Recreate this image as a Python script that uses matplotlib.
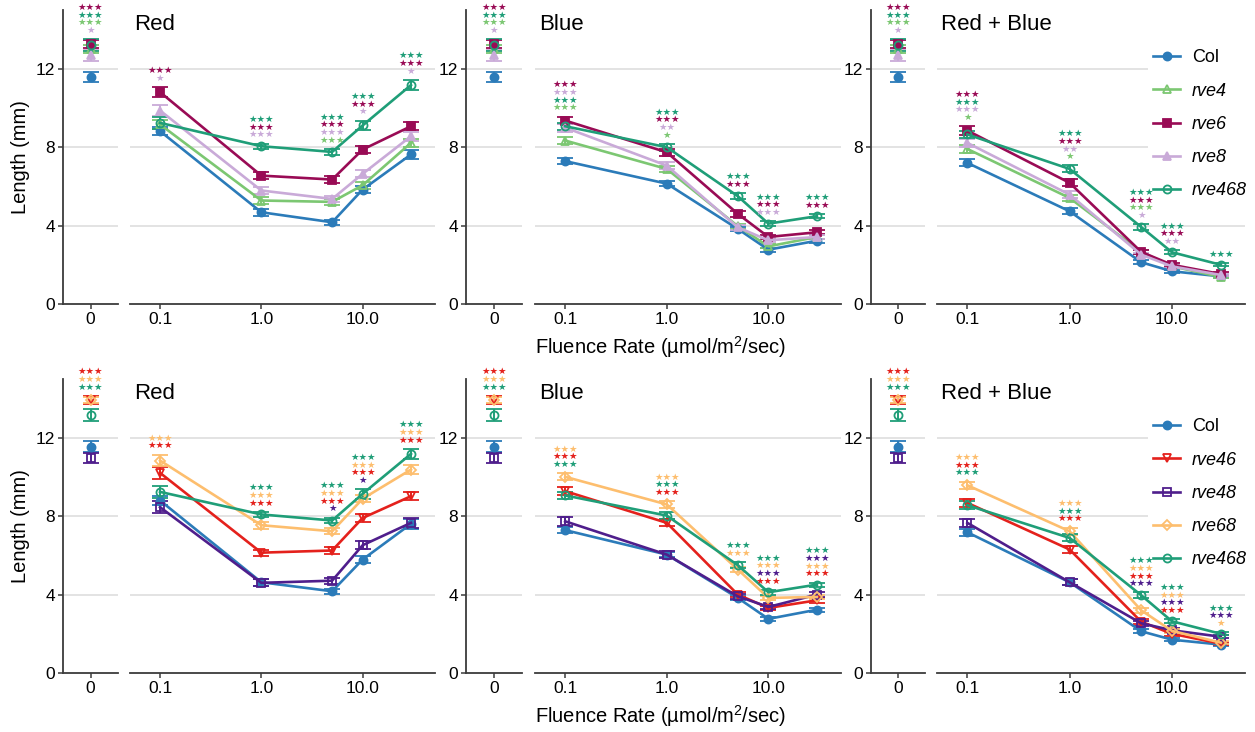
import matplotlib
matplotlib.use("Agg")
import matplotlib.pyplot as plt
from matplotlib.lines import Line2D
from matplotlib.ticker import FixedLocator, NullLocator, FixedFormatter

plt.rcParams['font.family'] = ['Liberation Sans', 'DejaVu Sans']
plt.rcParams['mathtext.default'] = 'regular'

# ─────────────────────────────────────────────
# Datos
# ─────────────────────────────────────────────
fluence = [0.1, 1.0, 5.0, 10.0, 30.0]
panel_titles = ["Red", "Blue", "Red + Blue"]
top_genos = ["Col", "rve4", "rve6", "rve8", "rve468"]
bot_genos = ["Col", "rve46", "rve48", "rve68", "rve468"]

colors = {"Col": "#2b7bb9", "rve4": "#7cc772", "rve6": "#990b55", "rve8": "#c9aad8",
          "rve468": "#1f9e78", "rve46": "#e4211c", "rve48": "#4f1e8c", "rve68": "#fdbe6e"}
# (marcador, relleno)
markers = {"Col": ("o", True), "rve4": ("^", False), "rve6": ("s", True), "rve8": ("^", True),
           "rve468": ("o", False), "rve46": ("v", False), "rve48": ("s", False), "rve68": ("D", False)}

# fila de arriba: oscuridad (0)
top_dark_mean = {"Col": 11.58, "rve4": 13.0, "rve6": 13.27, "rve8": 12.7, "rve468": 13.2}
top_dark_se = {"Col": 0.27, "rve4": 0.2, "rve6": 0.22, "rve8": 0.28, "rve468": 0.3}
top_dark_stars = [("rve6", "***"), ("rve468", "***"), ("rve4", "***"), ("rve8", "*")]

top_red_mean = {"Col": [8.82, 4.68, 4.17, 5.84, 7.63],
                "rve4": [9.16, 5.28, 5.21, 6.06, 8.22],
                "rve6": [10.81, 6.55, 6.35, 7.88, 9.07],
                "rve8": [9.87, 5.79, 5.36, 6.64, 8.56],
                "rve468": [9.24, 8.05, 7.76, 9.11, 11.17]}
top_red_se = {"Col": [0.22, 0.17, 0.14, 0.19, 0.25],
              "rve4": [0.22, 0.18, 0.16, 0.18, 0.22],
              "rve6": [0.27, 0.18, 0.16, 0.19, 0.21],
              "rve8": [0.28, 0.17, 0.15, 0.18, 0.22],
              "rve468": [0.3, 0.13, 0.15, 0.24, 0.26]}
top_red_stars = [[("rve6", "***"), ("rve8", "*")],
                 [("rve468", "***"), ("rve6", "***"), ("rve8", "***")],
                 [("rve468", "***"), ("rve6", "***"), ("rve8", "***"), ("rve4", "***")],
                 [("rve468", "***"), ("rve6", "***"), ("rve8", "*")],
                 [("rve468", "***"), ("rve6", "***"), ("rve8", "*")]]

top_blue_mean = {"Col": [7.29, 6.14, 3.83, 2.77, 3.23],
                 "rve4": [8.34, 6.89, 3.97, 2.94, 3.42],
                 "rve6": [9.36, 7.74, 4.6, 3.42, 3.66],
                 "rve8": [9.0, 7.06, 3.91, 3.25, 3.42],
                 "rve468": [9.07, 8.0, 5.5, 4.1, 4.48]}
top_blue_se = {"Col": [0.16, 0.13, 0.12, 0.1, 0.1],
               "rve4": [0.2, 0.16, 0.12, 0.1, 0.1],
               "rve6": [0.2, 0.17, 0.14, 0.12, 0.1],
               "rve8": [0.2, 0.16, 0.12, 0.1, 0.1],
               "rve468": [0.18, 0.17, 0.16, 0.12, 0.1]}
top_blue_stars = [[("rve6", "***"), ("rve8", "***"), ("rve468", "***"), ("rve4", "***")],
                  [("rve468", "***"), ("rve6", "***"), ("rve8", "**"), ("rve4", "*")],
                  [("rve468", "***"), ("rve6", "***")],
                  [("rve468", "***"), ("rve6", "***"), ("rve8", "***")],
                  [("rve468", "***"), ("rve6", "***")]]

top_rb_mean = {"Col": [7.2, 4.73, 2.13, 1.67, 1.41],
               "rve4": [7.91, 5.41, 2.66, 1.92, 1.38],
               "rve6": [8.85, 6.18, 2.66, 2.0, 1.53],
               "rve8": [8.22, 5.58, 2.52, 1.92, 1.48],
               "rve468": [8.65, 6.89, 3.93, 2.64, 2.0]}
top_rb_se = {"Col": [0.18, 0.15, 0.1, 0.08, 0.07],
             "rve4": [0.2, 0.16, 0.1, 0.08, 0.07],
             "rve6": [0.22, 0.18, 0.12, 0.09, 0.08],
             "rve8": [0.2, 0.17, 0.1, 0.08, 0.07],
             "rve468": [0.2, 0.18, 0.14, 0.1, 0.08]}
top_rb_stars = [[("rve6", "***"), ("rve468", "***"), ("rve8", "***"), ("rve4", "*")],
                [("rve468", "***"), ("rve6", "***"), ("rve8", "**"), ("rve4", "*")],
                [("rve468", "***"), ("rve6", "***"), ("rve4", "***"), ("rve8", "*")],
                [("rve468", "***"), ("rve6", "***"), ("rve8", "**")],
                [("rve468", "***")]]

# fila de abajo: oscuridad (0)
bot_dark_mean = {"Col": 11.54, "rve46": 13.92, "rve48": 10.98, "rve68": 13.95, "rve468": 13.17}
bot_dark_se = {"Col": 0.28, "rve46": 0.22, "rve48": 0.25, "rve68": 0.15, "rve468": 0.3}
bot_dark_stars = [("rve46", "***"), ("rve68", "***"), ("rve468", "***")]

bot_red_mean = {"Col": [8.8, 4.63, 4.17, 5.79, 7.61],
                "rve46": [10.21, 6.14, 6.25, 7.91, 9.02],
                "rve48": [8.46, 4.6, 4.71, 6.52, 7.66],
                "rve68": [10.84, 7.54, 7.23, 8.89, 10.38],
                "rve468": [9.24, 8.09, 7.78, 9.14, 11.18]}
bot_red_se = {"Col": [0.22, 0.17, 0.14, 0.19, 0.25],
              "rve46": [0.3, 0.15, 0.16, 0.2, 0.2],
              "rve48": [0.3, 0.18, 0.15, 0.2, 0.25],
              "rve68": [0.3, 0.18, 0.16, 0.18, 0.25],
              "rve468": [0.3, 0.13, 0.15, 0.24, 0.26]}
bot_red_stars = [[("rve68", "***"), ("rve46", "***")],
                 [("rve468", "***"), ("rve68", "***"), ("rve46", "***")],
                 [("rve468", "***"), ("rve68", "***"), ("rve46", "***"), ("rve48", "*")],
                 [("rve468", "***"), ("rve68", "***"), ("rve46", "***"), ("rve48", "*")],
                 [("rve468", "***"), ("rve68", "***"), ("rve46", "***")]]

bot_blue_mean = {"Col": [7.29, 6.04, 3.83, 2.76, 3.23],
                 "rve46": [9.28, 7.66, 4.0, 3.32, 3.71],
                 "rve48": [7.74, 6.04, 3.91, 3.37, 4.0],
                 "rve68": [10.01, 8.6, 5.28, 3.83, 3.88],
                 "rve468": [9.06, 8.03, 5.5, 4.12, 4.51]}
bot_blue_se = {"Col": [0.16, 0.13, 0.12, 0.1, 0.1],
               "rve46": [0.2, 0.18, 0.14, 0.12, 0.12],
               "rve48": [0.22, 0.16, 0.14, 0.12, 0.12],
               "rve68": [0.18, 0.16, 0.14, 0.12, 0.12],
               "rve468": [0.18, 0.17, 0.16, 0.12, 0.1]}
bot_blue_stars = [[("rve68", "***"), ("rve46", "***"), ("rve468", "***")],
                  [("rve68", "***"), ("rve468", "***"), ("rve46", "***")],
                  [("rve468", "***"), ("rve68", "***")],
                  [("rve468", "***"), ("rve68", "***"), ("rve48", "***"), ("rve46", "***")],
                  [("rve468", "***"), ("rve48", "***"), ("rve68", "***"), ("rve46", "***")]]

bot_rb_mean = {"Col": [7.18, 4.63, 2.13, 1.7, 1.45],
               "rve46": [8.68, 6.3, 2.62, 2.0, 1.5],
               "rve48": [7.66, 4.63, 2.54, 2.18, 1.85],
               "rve68": [9.58, 7.23, 3.2, 2.15, 1.55],
               "rve468": [8.56, 6.89, 3.97, 2.64, 2.0]}
bot_rb_se = {"Col": [0.18, 0.15, 0.1, 0.08, 0.07],
             "rve46": [0.2, 0.18, 0.12, 0.1, 0.08],
             "rve48": [0.2, 0.16, 0.12, 0.1, 0.08],
             "rve68": [0.18, 0.18, 0.12, 0.1, 0.08],
             "rve468": [0.2, 0.18, 0.14, 0.1, 0.08]}
bot_rb_stars = [[("rve68", "***"), ("rve46", "***"), ("rve468", "***")],
                [("rve68", "***"), ("rve468", "***"), ("rve46", "***")],
                [("rve468", "***"), ("rve68", "***"), ("rve46", "***"), ("rve48", "***")],
                [("rve468", "***"), ("rve68", "***"), ("rve48", "***"), ("rve46", "***")],
                [("rve468", "***"), ("rve48", "***"), ("rve68", "*")]]

GRID = "#dedede"
SPINE = "#3c3c3c"
# posiciones en pixeles (izq, ancho) de los ejes "0" y principal de cada grupo
col_px = [((63, 55), (130, 305)), ((466, 56), (535, 306)), ((871, 54), (937, 308))]
row_px = [(10, 304), (379, 673)]
W, H = 1255, 732


def estilo(g):
    mk, lleno = markers[g]
    return dict(marker=mk, color=colors[g], mfc=colors[g] if lleno else "none",
                mec=colors[g], ms=5.8 if mk != "D" else 4.8, mew=1.3)


def poner_estrellas(ax, x, filas, medias, errores):
    tope = max(m + e for m, e in zip(medias, errores))
    n = len(filas)
    for i, (g, s) in enumerate(filas):
        y = tope + 0.45 + (n - 1 - i) * 0.39
        ax.text(x, y, s.replace("*", "\u2605"), color=colors[g], ha="center", va="center",
                fontsize=6.8, family=["DejaVu Sans"], zorder=6)


def grilla(ax):
    for v in [4, 8, 12]:
        ax.axhline(v, color=GRID, lw=1.2, zorder=0)


def graficar_fila(fig, fila, genos, dark_mean, dark_se, dark_stars, medias, errores, estrellas):
    top, bottom = row_px[fila]
    for k in range(3):
        (zl, zw), (ml, mw) = col_px[k]
        y0 = (H - bottom) / H
        h = (bottom - top) / H
        az = fig.add_axes([zl / W, y0, zw / W, h])
        ax = fig.add_axes([ml / W, y0, mw / W, h])

        # panel de oscuridad
        grilla(az)
        for g in genos:
            az.errorbar([0], [dark_mean[g]], yerr=[dark_se[g]], capsize=6, capthick=1.4,
                        elinewidth=1.4, zorder=3, **estilo(g))
        poner_estrellas(az, 0, dark_stars, [dark_mean[g] for g in genos], [dark_se[g] for g in genos])
        az.set_xlim(-1, 1)
        az.set_ylim(0, 15)
        az.set_xticks([0])
        az.set_xticklabels(["0"])
        az.set_yticks([0, 4, 8, 12])
        for s in ["top", "right"]:
            az.spines[s].set_visible(False)
        for s in ["left", "bottom"]:
            az.spines[s].set_color(SPINE)
            az.spines[s].set_linewidth(1.3)
        az.tick_params(labelsize=12.5, length=3.5, width=1.1, color=SPINE, pad=2)

        # panel principal
        grilla(ax)
        m, e = medias[k], errores[k]
        for g in genos:
            ax.errorbar(fluence, m[g], yerr=e[g], capsize=6, capthick=1.4, elinewidth=1.4,
                        lw=1.9, zorder=3, **estilo(g))
        for i, x in enumerate(fluence):
            poner_estrellas(ax, x, estrellas[k][i], [m[g][i] for g in genos], [e[g][i] for g in genos])
        ax.set_xscale("log")
        ax.set_xlim(0.0505, 51.8)
        ax.set_ylim(0, 15)
        ax.xaxis.set_major_locator(FixedLocator([0.1, 1.0, 10.0]))
        ax.xaxis.set_major_formatter(FixedFormatter(["0.1", "1.0", "10.0"]))
        ax.xaxis.set_minor_locator(NullLocator())
        ax.set_yticks([])
        for s in ["top", "right", "left"]:
            ax.spines[s].set_visible(False)
        ax.spines["bottom"].set_color(SPINE)
        ax.spines["bottom"].set_linewidth(1.3)
        ax.tick_params(labelsize=12.5, length=3.5, width=1.1, color=SPINE, pad=2)
        ax.text(0.012, 0.985, panel_titles[k], transform=ax.transAxes, fontsize=16,
                ha="left", va="top")

        if k == 2:
            handles = [Line2D([], [], lw=1.9, **estilo(g)) for g in genos]
            leg = ax.legend(handles, genos, loc="upper left", bbox_to_anchor=(0.655, 0.915),
                            fontsize=13, frameon=True, facecolor="white", edgecolor="none",
                            framealpha=1, handlelength=1.5, handletextpad=0.65,
                            labelspacing=0.9, borderpad=0.3)
            for t in leg.get_texts()[1:]:
                t.set_fontstyle("italic")

    centro = (top + bottom) / 2
    fig.text(21 / W, 1 - centro / H, "Length (mm)", rotation=90, ha="center", va="center",
             fontsize=14.5)
    fig.text(661 / W, 1 - (bottom + 43) / H, "Fluence Rate (\u00b5mol/m$^{2}$/sec)",
             ha="center", va="center", fontsize=14.5)


fig = plt.figure(figsize=(W / 100, H / 100), dpi=100)
graficar_fila(fig, 0, top_genos, top_dark_mean, top_dark_se, top_dark_stars,
              [top_red_mean, top_blue_mean, top_rb_mean], [top_red_se, top_blue_se, top_rb_se],
              [top_red_stars, top_blue_stars, top_rb_stars])
graficar_fila(fig, 1, bot_genos, bot_dark_mean, bot_dark_se, bot_dark_stars,
              [bot_red_mean, bot_blue_mean, bot_rb_mean], [bot_red_se, bot_blue_se, bot_rb_se],
              [bot_red_stars, bot_blue_stars, bot_rb_stars])
fig.savefig("out.png", dpi=100)
